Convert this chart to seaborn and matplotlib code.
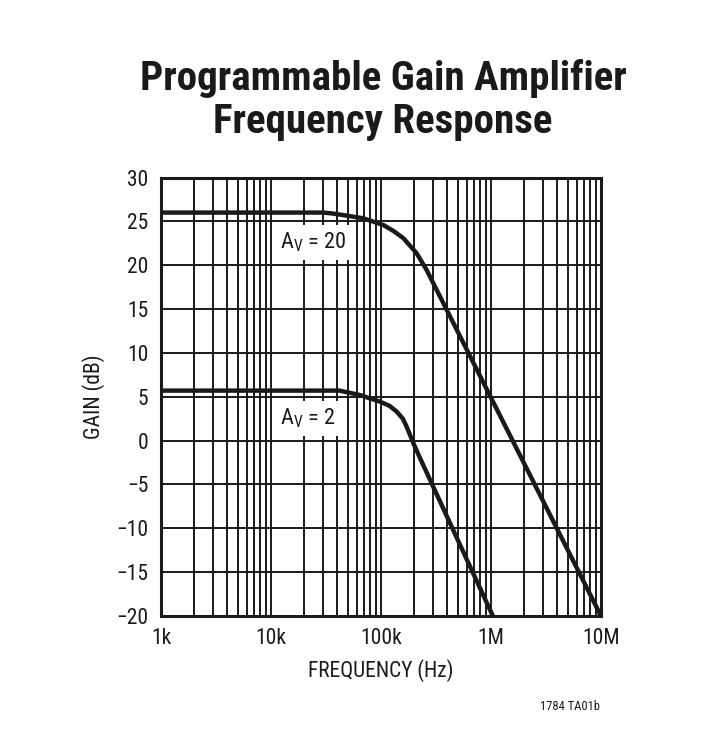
import matplotlib
matplotlib.use('Agg')

import matplotlib.pyplot as plt
from matplotlib import font_manager
from matplotlib.ticker import LogLocator, NullFormatter
import seaborn as sns
import pandas as pd

# curves
freq_av20 = [1e3, 3e4, 3.6e4, 4.5e4, 6.9e4, 1.05e5, 1.3e5, 1.6e5, 2.11e5, 2.6e5, 3.1e5, 1e7]
gain_av20 = [26.0, 26.0, 25.9, 25.72, 25.35, 24.58, 23.9, 23.07, 21.36, 19.45, 17.55, -20.0]

freq_av2 = [1e3, 4.2e4, 6.4e4, 9.8e4, 1.2e5, 1.39e5, 1.58e5, 1.71e5, 1.97e5, 2.26e5, 1.04e6]
gain_av2 = [5.7, 5.7, 5.2, 4.44, 3.95, 3.3, 2.5, 1.59, -0.3, -1.98, -20.0]

x_ticks = [1e3, 1e4, 1e5, 1e6, 1e7]
x_labels = ['1k', '10k', '100k', '1M', '10M']
y_ticks = [30, 25, 20, 15, 10, 5, 0, -5, -10, -15, -20]
y_labels = [str(v).replace('-', '\u2212') for v in y_ticks]


def pick_font(names):
    for n in names:
        try:
            font_manager.findfont(n, fallback_to_default=False)
            return n
        except Exception:
            pass
    return 'DejaVu Sans'


sns.set_style('white')
narrow = pick_font(['Liberation Sans Narrow', 'Roboto Condensed', 'Liberation Sans'])
plt.rcParams['font.family'] = [narrow, 'DejaVu Sans']
plt.rcParams['mathtext.fontset'] = 'custom'
plt.rcParams['mathtext.rm'] = narrow

ink = '#1a1a1a'

df = pd.concat([
    pd.DataFrame({'freq': freq_av20, 'gain': gain_av20, 'curve': 'Av=20'}),
    pd.DataFrame({'freq': freq_av2, 'gain': gain_av2, 'curve': 'Av=2'}),
])

fig = plt.figure(figsize=(7.22, 7.32), dpi=100)
ax = fig.add_axes([161 / 722, 1 - 616 / 732, 440 / 722, 438.5 / 732])

sns.lineplot(data=df, x='freq', y='gain', units='curve', estimator=None,
             color=ink, linewidth=3.2, ax=ax, zorder=5, legend=False)

ax.set_xscale('log')
ax.set_xlim(1e3, 1e7)
ax.set_ylim(-20, 30)
ax.set_xticks(x_ticks)
ax.set_xticklabels(x_labels)
ax.xaxis.set_minor_locator(LogLocator(base=10, subs=range(2, 10)))
ax.xaxis.set_minor_formatter(NullFormatter())
ax.set_yticks(y_ticks)
ax.set_yticklabels(y_labels)
ax.grid(True, which='both', axis='x', color=ink, linewidth=1.4)
ax.grid(True, which='major', axis='y', color=ink, linewidth=1.4)
ax.tick_params(which='both', length=0, labelsize=15.5, colors=ink)
ax.tick_params(axis='x', pad=9)
ax.tick_params(axis='y', pad=9)
for s in ax.spines.values():
    s.set_visible(True)
    s.set_color(ink)
    s.set_linewidth(2.2)

ax.set_xlabel('FREQUENCY (Hz)', fontsize=15.5, color=ink, labelpad=7)
ax.set_ylabel('GAIN (dB)', fontsize=15.5, color=ink, labelpad=8)

box = dict(facecolor='white', edgecolor='none', pad=4)
ax.text(2.4e4, 22.6, r'A$_\mathrm{V}$ = 20', fontsize=16, color=ink,
        ha='center', va='center', bbox=box, zorder=6)
ax.text(2.15e4, 2.5, r'A$_\mathrm{V}$ = 2', fontsize=16, color=ink,
        ha='center', va='center', bbox=box, zorder=6)

fig.text(383 / 722, 1 - 100 / 732, 'Programmable Gain Amplifier\nFrequency Response',
         ha='center', va='center', fontsize=29.5, fontweight='bold',
         color=ink, linespacing=1.18)
fig.text(600 / 722, 1 - 706 / 732, '1784 TA01b', ha='right', va='center',
         fontsize=9, color=ink)

fig.savefig('out.png', dpi=100)
